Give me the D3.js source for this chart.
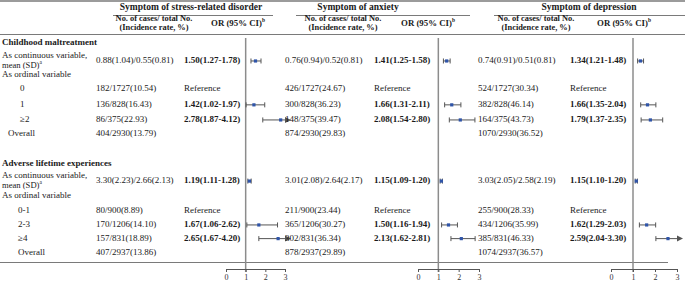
<!DOCTYPE html>
<html>
<head>
  <meta charset="utf-8">
  <style>
    body { margin: 0; background: #fff; }
    svg text { font-family: "Liberation Serif", "Times New Roman", serif; fill: #1a1a1a; }
    .rule { stroke: #7a7a7a; }
    .ci { stroke: #555; stroke-width: 1; }
    .axis text { font-size: 8px; fill: #333; }
    .axis path, .axis line { stroke: #555; }
  </style>
  <script src="https://d3js.org/d3.v7.min.js"></script>
</head>
<body>
<script>
  const outcomes = ["Symptom of stress-related disorder", "Symptom of anxiety", "Symptom of depression"];

  const rowLabels = ["Childhood maltreatment", "As continuous variable,", "As ordinal variable", "0", "1", "\u22652", "Overall",
    "Adverse lifetime experiences", "As continuous variable,", "As ordinal variable", "0-1", "2-3", "\u22654", "Overall"];
  const rowKinds = ["section", "cont", "sub", "level", "level", "level", "overall",
    "section", "cont", "sub", "level2", "level2", "level2", "level2"];

  const stressCases = ["", "0.88(1.04)/0.55(0.81)", "", "182/1727(10.54)", "136/828(16.43)", "86/375(22.93)", "404/2930(13.79)",
    "", "3.30(2.23)/2.66(2.13)", "", "80/900(8.89)", "170/1206(14.10)", "157/831(18.89)", "407/2937(13.86)"];
  const anxietyCases = ["", "0.76(0.94)/0.52(0.81)", "", "426/1727(24.67)", "300/828(36.23)", "148/375(39.47)", "874/2930(29.83)",
    "", "3.01(2.08)/2.64(2.17)", "", "211/900(23.44)", "365/1206(30.27)", "302/831(36.34)", "878/2937(29.89)"];
  const depressionCases = ["", "0.74(0.91)/0.51(0.81)", "", "524/1727(30.34)", "382/828(46.14)", "164/375(43.73)", "1070/2930(36.52)",
    "", "3.03(2.05)/2.58(2.19)", "", "255/900(28.33)", "434/1206(35.99)", "385/831(46.33)", "1074/2937(36.57)"];

  // [OR, lower, upper]; "ref" = reference category
  const stressOR = [null, [1.50, 1.27, 1.78], null, "ref", [1.42, 1.02, 1.97], [2.78, 1.87, 4.12], null,
    null, [1.19, 1.11, 1.28], null, "ref", [1.67, 1.06, 2.62], [2.65, 1.67, 4.20], null];
  const anxietyOR = [null, [1.41, 1.25, 1.58], null, "ref", [1.66, 1.31, 2.11], [2.08, 1.54, 2.80], null,
    null, [1.15, 1.09, 1.20], null, "ref", [1.50, 1.16, 1.94], [2.13, 1.62, 2.81], null];
  const depressionOR = [null, [1.34, 1.21, 1.48], null, "ref", [1.66, 1.35, 2.04], [1.79, 1.37, 2.35], null,
    null, [1.15, 1.10, 1.20], null, "ref", [1.62, 1.29, 2.03], [2.59, 2.04, 3.30], null];

  const tickValues = [0, 1, 2, 3];

  const width = 685, height = 283;
  const svg = d3.select("body").append("svg")
    .attr("width", width).attr("height", height);

  // vertical layout: each row sits on a slot, mapped to pixels by a linear scale
  const rowSlots = [0, 1.25, 2.2, 3.2, 4.3, 5.35, 6.3, 8.4, 9.6, 10.65, 11.7, 12.65, 13.6, 14.6];
  const y = d3.scaleLinear().domain([0, 14.6]).range([43, 253]);

  const panels = [
    { cases: stressCases, or: stressOR, casesX: 96, orX: 184, range: [226, 285], title: 191, line: [113, 273] },
    { cases: anxietyCases, or: anxietyOR, casesX: 285, orX: 374, range: [418, 479], title: 358, line: [296, 470] },
    { cases: depressionCases, or: depressionOR, casesX: 478, orX: 570, range: [611, 677], title: 589, line: [494, 685] }
  ];

  // rules
  svg.append("line").attr("class", "rule").attr("x1", 0).attr("x2", width).attr("y1", 1).attr("y2", 1).attr("stroke-width", 1.5);
  svg.append("line").attr("class", "rule").attr("x1", 0).attr("x2", width).attr("y1", 34.5).attr("y2", 34.5).attr("stroke-width", 1);
  svg.append("line").attr("class", "rule").attr("x1", 0).attr("x2", 668).attr("y1", 262.5).attr("y2", 262.5).attr("stroke-width", 1);

  // row labels
  const labelX = { section: 2, cont: 2, sub: 2, level: 20, overall: 8, level2: 18 };
  rowLabels.forEach((lab, i) => {
    const k = rowKinds[i];
    const t = svg.append("text")
      .attr("x", labelX[k])
      .attr("y", y(rowSlots[i]))
      .attr("dominant-baseline", "middle")
      .attr("font-size", 9);
    if (k === "section") {
      t.attr("font-weight", "bold").text(lab);
    } else if (k === "cont") {
      t.attr("y", y(rowSlots[i]) - 4.8).text(lab);
      const t2 = svg.append("text")
        .attr("x", labelX[k]).attr("y", y(rowSlots[i]) + 4.8)
        .attr("dominant-baseline", "middle").attr("font-size", 8.6);
      t2.append("tspan").text("mean (SD)");
      t2.append("tspan").attr("font-size", 5.5).attr("dy", -3).text("a");
    } else {
      t.text(lab);
    }
  });

  panels.forEach((p, pi) => {
    const g = svg.append("g");

    g.append("text").attr("x", p.title).attr("y", 8)
      .attr("text-anchor", "middle").attr("dominant-baseline", "middle")
      .attr("font-size", 9.5).attr("font-weight", "bold")
      .text(outcomes[pi]);
    g.append("line").attr("class", "rule")
      .attr("x1", p.line[0]).attr("x2", p.line[1]).attr("y1", 15.5).attr("y2", 15.5);

    const casesMid = p.casesX + 58;
    g.append("text").attr("x", casesMid).attr("y", 19.5)
      .attr("text-anchor", "middle").attr("dominant-baseline", "middle")
      .attr("font-size", 8.4).attr("font-weight", "bold").text("No. of cases/ total No.");
    g.append("text").attr("x", casesMid).attr("y", 28.5)
      .attr("text-anchor", "middle").attr("dominant-baseline", "middle")
      .attr("font-size", 8.4).attr("font-weight", "bold").text("(Incidence rate, %)");
    const orh = g.append("text").attr("x", p.orX + 54).attr("y", 24)
      .attr("text-anchor", "middle").attr("dominant-baseline", "middle")
      .attr("font-size", 8.8).attr("font-weight", "bold");
    orh.append("tspan").text("OR (95% CI)");
    orh.append("tspan").attr("font-size", 5.5).attr("dy", -3).text("b");

    // cases and OR text
    p.cases.forEach((c, i) => {
      if (!c) return;
      g.append("text").attr("x", p.casesX).attr("y", y(rowSlots[i]))
        .attr("dominant-baseline", "middle").attr("font-size", 9).text(c);
    });
    p.or.forEach((o, i) => {
      if (!o) return;
      const t = g.append("text").attr("x", p.orX).attr("y", y(rowSlots[i]))
        .attr("dominant-baseline", "middle").attr("font-size", 9);
      if (o === "ref") t.text("Reference");
      else t.attr("font-weight", "bold")
        .text(`${o[0].toFixed(2)}(${o[1].toFixed(2)}-${o[2].toFixed(2)})`);
    });

    // forest plot
    const x = d3.scaleLinear().domain([0, 3]).range(p.range);
    const axisY = 269;

    g.append("line")
      .attr("x1", x(1)).attr("x2", x(1))
      .attr("y1", 38).attr("y2", axisY + 3)
      .attr("stroke", "#8c8c8c").attr("stroke-width", 1.5);

    g.append("g").attr("class", "axis")
      .attr("transform", `translate(0,${axisY})`)
      .call(d3.axisBottom(x).tickValues(tickValues).tickSize(3).tickSizeOuter(3).tickFormat(d3.format("d")))
      .call(a => a.selectAll("text").attr("y", 5).attr("dy", "0.71em"));

    p.or.forEach((o, i) => {
      if (!o || o === "ref") return;
      const yy = y(rowSlots[i]);
      const over = o[2] > 3;
      const hiX = over ? x(3) + 1 : x(o[2]);
      g.append("line").attr("class", "ci")
        .attr("x1", x(o[1])).attr("x2", hiX).attr("y1", yy).attr("y2", yy);
      g.append("line").attr("class", "ci")
        .attr("x1", x(o[1])).attr("x2", x(o[1])).attr("y1", yy - 2.5).attr("y2", yy + 2.5);
      if (!over) {
        g.append("line").attr("class", "ci")
          .attr("x1", x(o[2])).attr("x2", x(o[2])).attr("y1", yy - 2.5).attr("y2", yy + 2.5);
      }
      g.append("rect")
        .attr("x", x(o[0]) - 1.6).attr("y", yy - 1.6)
        .attr("width", 3.2).attr("height", 3.2)
        .attr("fill", "#2f54a8");
      if (over) {
        const ax = x(3);
        g.append("path")
          .attr("d", `M${ax},${yy - 3}L${ax + 6},${yy}L${ax},${yy + 3}Z`)
          .attr("fill", "#555");
      }
    });
  });
</script>
</body>
</html>
